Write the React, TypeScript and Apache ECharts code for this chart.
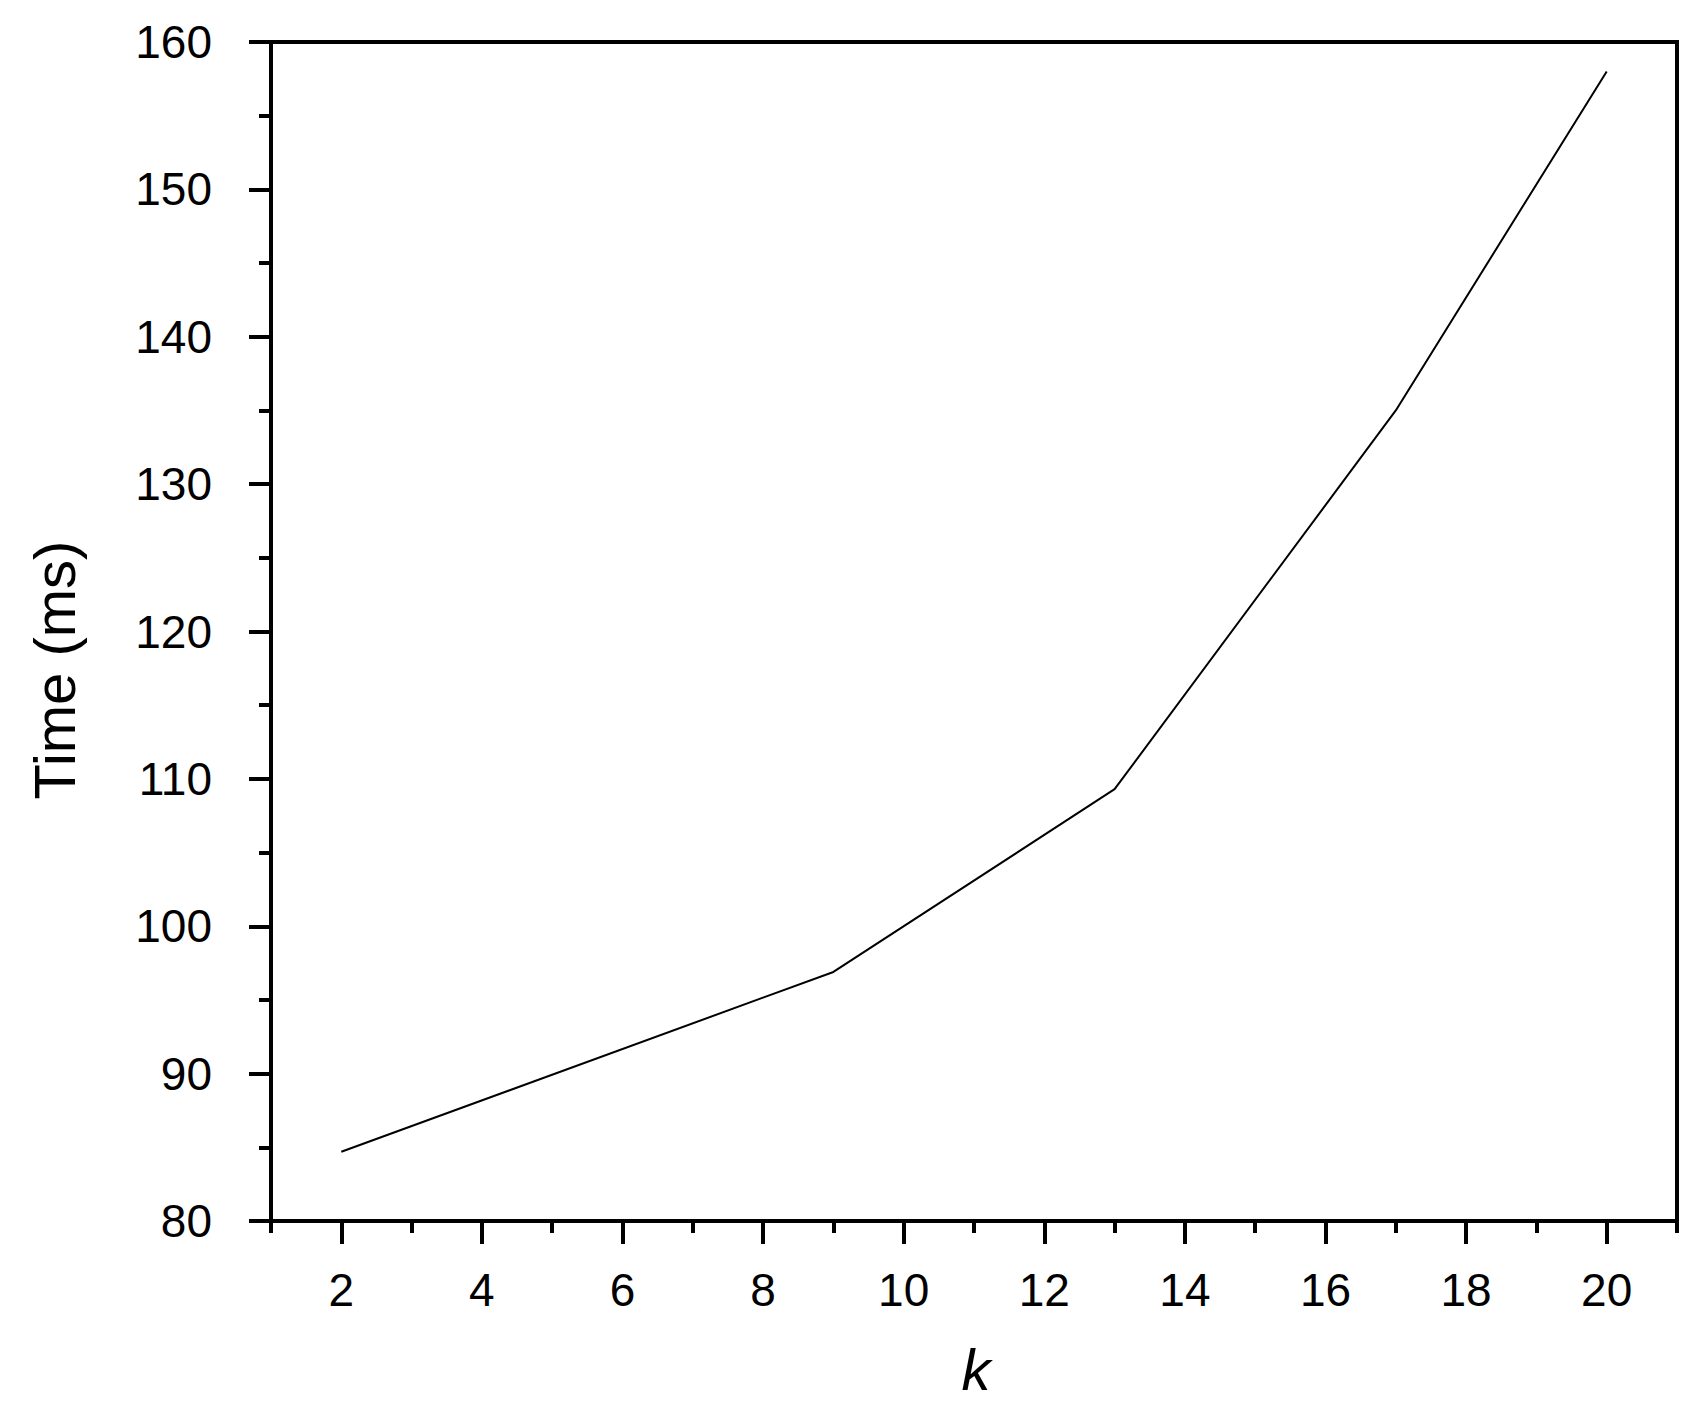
import React, { useEffect, useRef } from "react";
import * as echarts from "echarts";

const kValues = [2, 9, 13, 17, 20];
const timeValues = [84.7, 96.9, 109.3, 135.0, 158.0];
const xTickLabels = [2, 4, 6, 8, 10, 12, 14, 16, 18, 20];
const yTickLabels = [80, 90, 100, 110, 120, 130, 140, 150, 160];
const xTitle = "k";
const yTitle = "Time (ms)";

const FONT = "'Liberation Sans', Arial, sans-serif";

export default function App() {
  const ref = useRef<HTMLDivElement>(null);
  useEffect(() => {
    document.body.style.margin = "0";
    const chart = echarts.init(ref.current!, undefined, { renderer: "svg" });
    const data = kValues.map((k, i) => [k, timeValues[i]]);
    chart.setOption({
      animation: false,
      backgroundColor: "#fff",
      grid: {
        left: 271,
        top: 42,
        width: 1406,
        height: 1179,
        show: true,
        borderColor: "#000",
        borderWidth: 4,
        containLabel: false,
      },
      xAxis: [
        {
          type: "value",
          min: 1,
          max: 21,
          position: "bottom",
          splitLine: { show: false },
          axisLine: { show: true, lineStyle: { color: "#000", width: 4 } },
          axisTick: {
            show: true,
            length: 23,
            lineStyle: { color: "#000", width: 4 },
            customValues: xTickLabels,
          },
          axisLabel: {
            show: true,
            customValues: xTickLabels,
            margin: 46,
            fontSize: 46,
            color: "#000",
            fontFamily: FONT,
          },
        },
        {
          type: "value",
          min: 1,
          max: 21,
          interval: 1,
          position: "bottom",
          gridIndex: 0,
          splitLine: { show: false },
          axisLine: { show: false },
          axisTick: { show: true, length: 12, lineStyle: { color: "#000", width: 4 } },
          axisLabel: { show: false },
        },
      ],
      yAxis: {
        type: "value",
        min: yTickLabels[0],
        max: yTickLabels[yTickLabels.length - 1],
        interval: 10,
        splitLine: { show: false },
        axisLine: { show: true, lineStyle: { color: "#000", width: 4 } },
        axisTick: { show: true, length: 22, lineStyle: { color: "#000", width: 4 } },
        minorTick: { show: true, splitNumber: 2, length: 12, lineStyle: { color: "#000", width: 4 } },
        axisLabel: {
          margin: 59,
          fontSize: 46,
          color: "#000",
          fontFamily: FONT,
        },
      },
      graphic: [
        {
          type: "text",
          x: 976,
          y: 1369,
          style: {
            text: xTitle,
            fontSize: 58,
            fontStyle: "italic",
            fontFamily: FONT,
            fill: "#000",
            align: "center",
            verticalAlign: "middle",
          },
        },
        {
          type: "text",
          x: 54,
          y: 670,
          rotation: Math.PI / 2,
          style: {
            text: yTitle,
            fontSize: 58,
            fontFamily: FONT,
            fill: "#000",
            align: "center",
            verticalAlign: "middle",
          },
        },
      ],
      series: [
        {
          type: "line",
          data,
          xAxisIndex: 0,
          showSymbol: false,
          symbol: "none",
          lineStyle: { color: "#000", width: 2 },
        },
      ],
    });
    return () => chart.dispose();
  }, []);
  return <div ref={ref} style={{ width: 1705, height: 1407 }} />;
}
